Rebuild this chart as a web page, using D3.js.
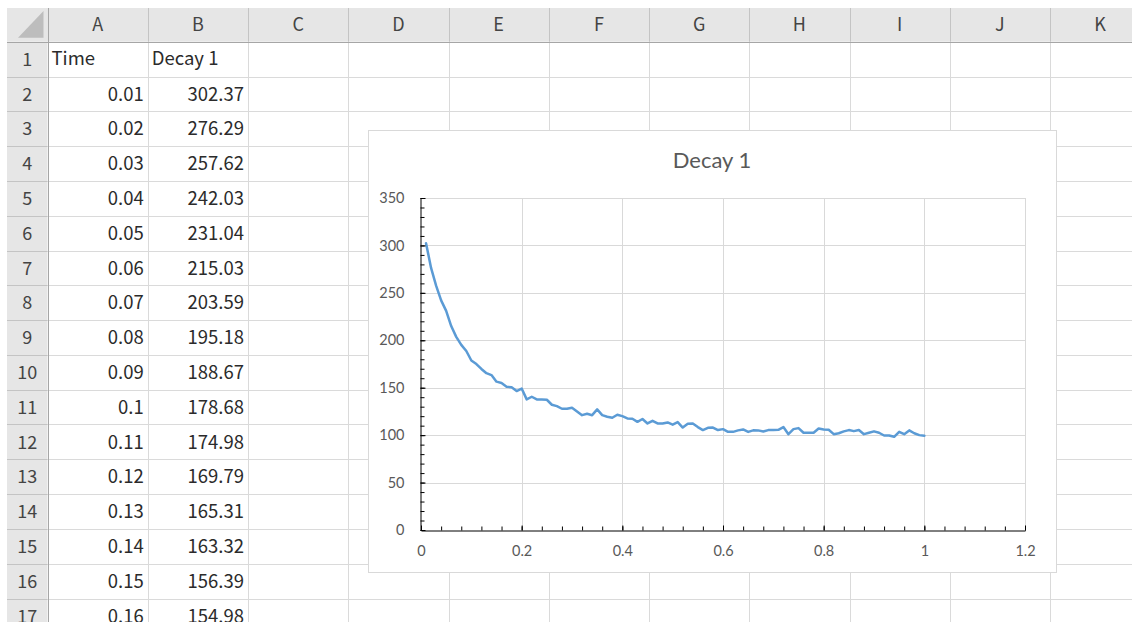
<!DOCTYPE html>
<html>
<head>
<meta charset="utf-8">
<title>Decay 1</title>
<script src="https://cdn.jsdelivr.net/npm/d3@7"></script>
<style>
  body { margin: 0; background: #fff; }
  svg { display: block; }
</style>
</head>
<body>
<script>
// sheet columns and data
var colNames = ["A", "B", "C", "D", "E", "F", "G", "H", "I", "J", "K"];
var headers = ["Time", "Decay 1"];
var times = [0.01, 0.02, 0.03, 0.04, 0.05, 0.06, 0.07, 0.08, 0.09, 0.1,
  0.11, 0.12, 0.13, 0.14, 0.15, 0.16, 0.17, 0.18, 0.19, 0.2,
  0.21, 0.22, 0.23, 0.24, 0.25, 0.26, 0.27, 0.28, 0.29, 0.3,
  0.31, 0.32, 0.33, 0.34, 0.35, 0.36, 0.37, 0.38, 0.39, 0.4,
  0.41, 0.42, 0.43, 0.44, 0.45, 0.46, 0.47, 0.48, 0.49, 0.5,
  0.51, 0.52, 0.53, 0.54, 0.55, 0.56, 0.57, 0.58, 0.59, 0.6,
  0.61, 0.62, 0.63, 0.64, 0.65, 0.66, 0.67, 0.68, 0.69, 0.7,
  0.71, 0.72, 0.73, 0.74, 0.75, 0.76, 0.77, 0.78, 0.79, 0.8,
  0.81, 0.82, 0.83, 0.84, 0.85, 0.86, 0.87, 0.88, 0.89, 0.9,
  0.91, 0.92, 0.93, 0.94, 0.95, 0.96, 0.97, 0.98, 0.99, 1];
var decay1 = [302.37, 276.29, 257.62, 242.03, 231.04, 215.03, 203.59, 195.18, 188.67, 178.68,
  174.98, 169.79, 165.31, 163.32, 156.39, 154.98, 151.02, 150.47, 146.53, 149.11,
  137.72, 140.46, 137.68, 137.52, 137.31, 132.05, 130.62, 127.83, 127.79, 128.94,
  125.04, 121.08, 122.51, 121.03, 127.12, 121.06, 119.42, 118.31, 121.54, 120.02,
  117.63, 117.29, 114.05, 117.01, 112.33, 115.12, 112.31, 112.36, 113.42, 111.04,
  113.71, 108.02, 112.04, 112.31, 108.52, 105.33, 107.71, 108.03, 105.32, 106.34,
  103.52, 103.49, 105.02, 106.04, 103.41, 105.03, 105.01, 103.92, 105.31, 105.33,
  105.62, 108.51, 101.04, 106.32, 107.41, 102.53, 102.48, 102.51, 107.02, 106.01,
  105.63, 101.02, 102.04, 104.01, 105.32, 104.21, 105.33, 101.03, 102.52, 104.02,
  102.51, 99.61, 99.58, 98.22, 103.52, 101.04, 105.01, 102.03, 100.02, 99.31];
var xTicks = [0, 0.2, 0.4, 0.6, 0.8, 1, 1.2];
var yTicks = [0, 50, 100, 150, 200, 250, 300, 350];

var W = 1132, H = 622;
var sheetFont = "'Noto Sans CJK JP', 'Noto Sans', sans-serif";
var chartFont = "Lato, Carlito, Calibri, sans-serif";

var svg = d3.select("body").append("svg")
  .attr("width", W).attr("height", H);

// sheet grid
var sx = 7, sy = 8, hdrH = 33.7, rowHdrW = 40.5, colW = 100.25, rowH = 34.8;
var x0 = sx + rowHdrW, y0 = sy + hdrH;
var nRows = Math.ceil((H - y0) / rowH);

svg.append("rect").attr("x", sx).attr("y", sy)
  .attr("width", W - sx).attr("height", hdrH).attr("fill", "#e6e6e6");
svg.append("rect").attr("x", sx).attr("y", y0)
  .attr("width", rowHdrW).attr("height", H - y0).attr("fill", "#e6e6e6");

// corner triangle
svg.append("path")
  .attr("d", "M" + (x0 - 4) + "," + (sy + 3) + "L" + (x0 - 4) + "," + (y0 - 4) + "L" + (sx + 11) + "," + (y0 - 4) + "Z")
  .attr("fill", "#bdbdbd");

var grid = svg.append("g");
d3.range(colNames.length + 1).forEach(function(i) {
  var x = Math.round(x0 + i * colW) + 0.5;
  grid.append("line").attr("x1", x).attr("x2", x).attr("y1", y0).attr("y2", H)
    .attr("stroke", "#dadada");
  grid.append("line").attr("x1", x).attr("x2", x).attr("y1", sy).attr("y2", y0)
    .attr("stroke", "#c4c4c4");
});
d3.range(1, nRows + 1).forEach(function(i) {
  var y = Math.round(y0 + i * rowH) + 0.5;
  grid.append("line").attr("x1", x0).attr("x2", W).attr("y1", y).attr("y2", y)
    .attr("stroke", "#dadada");
  grid.append("line").attr("x1", sx).attr("x2", x0).attr("y1", y).attr("y2", y)
    .attr("stroke", "#c4c4c4");
});
grid.append("line").attr("x1", sx).attr("x2", W).attr("y1", Math.round(y0) + 0.5).attr("y2", Math.round(y0) + 0.5)
  .attr("stroke", "#a6a6a6");
grid.append("line").attr("x1", Math.round(x0) + 0.5).attr("x2", Math.round(x0) + 0.5).attr("y1", sy).attr("y2", H)
  .attr("stroke", "#a6a6a6");

// header labels
svg.append("g").selectAll("text").data(colNames).join("text")
  .attr("x", function(d, i) { return x0 + i * colW + colW / 2; })
  .attr("y", sy + 23)
  .attr("text-anchor", "middle")
  .attr("font-family", sheetFont).attr("font-size", 18)
  .attr("fill", "#444").text(function(d) { return d; });

svg.append("g").selectAll("text").data(d3.range(1, nRows + 1)).join("text")
  .attr("x", sx + rowHdrW / 2)
  .attr("y", function(d) { return y0 + (d - 1) * rowH + 24; })
  .attr("text-anchor", "middle")
  .attr("font-family", sheetFont).attr("font-size", 18)
  .attr("fill", "#444").text(function(d) { return d; });

// cells
var cells = svg.append("g").attr("font-family", sheetFont).attr("font-size", 18.5).attr("fill", "#2b2b2b");
headers.forEach(function(h, i) {
  cells.append("text").attr("x", x0 + i * colW + 4).attr("y", y0 + 23).text(h);
});
var shown = times.slice(0, nRows - 1);
shown.forEach(function(t, i) {
  var y = y0 + (i + 1) * rowH + 24;
  cells.append("text").attr("x", x0 + colW - 4).attr("y", y)
    .attr("text-anchor", "end").text(String(t));
  cells.append("text").attr("x", x0 + 2 * colW - 4).attr("y", y)
    .attr("text-anchor", "end").text(decay1[i].toFixed(2));
});

// chart
var chart = svg.append("g");
chart.append("rect").attr("x", 368.5).attr("y", 130.5)
  .attr("width", 688).attr("height", 442)
  .attr("fill", "#fff").attr("stroke", "#d9d9d9");

chart.append("text").attr("x", 712).attr("y", 168)
  .attr("text-anchor", "middle")
  .attr("font-family", chartFont).attr("font-size", 22)
  .attr("fill", "#595959").text(headers[1]);

var x = d3.scaleLinear().domain([0, 1.2]).range([421, 1025]);
var y = d3.scaleLinear().domain([0, 350]).range([530, 198]);

// gridlines
chart.append("g").selectAll("line").data(yTicks.slice(1)).join("line")
  .attr("x1", x(0)).attr("x2", x(1.2))
  .attr("y1", function(d) { return Math.round(y(d)) + 0.5; })
  .attr("y2", function(d) { return Math.round(y(d)) + 0.5; })
  .attr("stroke", "#d9d9d9");
chart.append("g").selectAll("line").data(xTicks.slice(1)).join("line")
  .attr("y1", y(0)).attr("y2", y(350))
  .attr("x1", function(d) { return Math.round(x(d)) + 0.5; })
  .attr("x2", function(d) { return Math.round(x(d)) + 0.5; })
  .attr("stroke", "#d9d9d9");

// line
var line = d3.line()
  .x(function(d, i) { return x(times[i]); })
  .y(function(d) { return y(d); });
chart.append("path").datum(decay1)
  .attr("d", line)
  .attr("fill", "none").attr("stroke", "#5b9bd5")
  .attr("stroke-width", 2.5)
  .attr("stroke-linejoin", "round").attr("stroke-linecap", "round");

// axes
function styleAxis(g) {
  g.select(".domain").attr("stroke", "#000");
  g.selectAll(".tick line").attr("stroke", "#000");
  g.selectAll("text").attr("font-family", chartFont).attr("font-size", 14.5).attr("fill", "#595959");
}
var xMinor = d3.range(0, 1.2001, 0.04);
var yMinor = d3.range(0, 350.01, 10);

chart.append("g").attr("transform", "translate(0," + 530.5 + ")")
  .call(d3.axisBottom(x).tickValues(xMinor).tickSize(-4).tickFormat("").tickSizeOuter(0))
  .call(styleAxis);
chart.append("g").attr("transform", "translate(0," + 530.5 + ")")
  .call(d3.axisBottom(x).tickValues(xTicks).tickSize(-5).tickPadding(15).tickSizeOuter(0)
    .tickFormat(function(d) { return String(+d.toFixed(1)); }))
  .call(styleAxis)
  .call(function(g) { g.select(".domain").remove(); });

chart.append("g").attr("transform", "translate(" + 420.5 + ",0)")
  .call(d3.axisLeft(y).tickValues(yMinor).tickSize(-4).tickFormat("").tickSizeOuter(0))
  .call(styleAxis);
chart.append("g").attr("transform", "translate(" + 420.5 + ",0)")
  .call(d3.axisLeft(y).tickValues(yTicks).tickSize(-5).tickPadding(16).tickSizeOuter(0))
  .call(styleAxis)
  .call(function(g) { g.select(".domain").remove(); });
</script>
</body>
</html>
